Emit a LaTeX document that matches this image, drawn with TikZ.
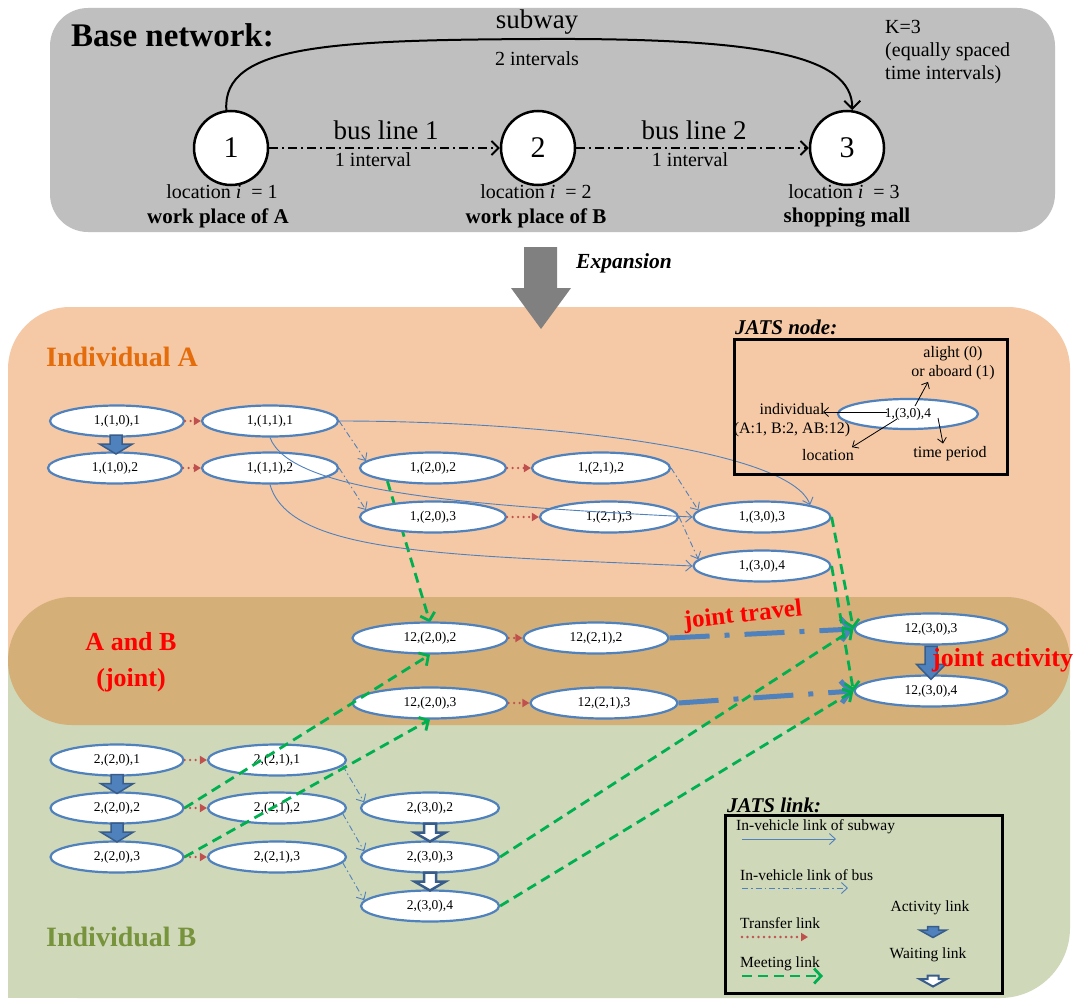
\documentclass[tikz,border=0pt]{standalone}
\usepackage{fontspec}
\setmainfont{Liberation Serif}
\usetikzlibrary{shapes.geometric,arrows.meta,calc}
\definecolor{nodeblue}{HTML}{4F81BD}
\definecolor{darkblue}{HTML}{385D8A}
\definecolor{tred}{HTML}{C0504D}
\definecolor{mgreen}{HTML}{00B050}
\definecolor{basegray}{HTML}{BFBFBF}
\definecolor{arrowgray}{HTML}{808080}
\definecolor{peach}{HTML}{F5C9A6}
\definecolor{band}{HTML}{D4AF78}
\definecolor{bgreen}{HTML}{CFD8B9}
\definecolor{orangeA}{HTML}{E46C0A}
\definecolor{oliveB}{HTML}{77933C}
\newcommand\fsz[2]{\fontsize{#1pt}{#2pt}\selectfont}
% block arrow pointing down: #1 style, #2 centre, #3 length, #4 shaft half width, #5 head half width, #6 head length
\newcommand\blockarr[6]{%
  \path[#1] let \p0=(#2) in
    ({\x0-#4pt},{\y0+0.5*#3pt}) -- ({\x0+#4pt},{\y0+0.5*#3pt}) --
    ({\x0+#4pt},{\y0-0.5*#3pt+#6pt}) -- ({\x0+#5pt},{\y0-0.5*#3pt+#6pt}) --
    ({\x0},{\y0-0.5*#3pt}) -- ({\x0-#5pt},{\y0-0.5*#3pt+#6pt}) --
    ({\x0-#4pt},{\y0-0.5*#3pt+#6pt}) -- cycle;}
\begin{document}
\begin{tikzpicture}[x=1pt,y=-1pt,
  jn/.style={ellipse, draw=nodeblue, line width=2.2pt, fill=white, minimum width=138pt, minimum height=31pt, inner sep=0pt, font=\fsz{13.5}{16}},
  circ/.style={circle, draw=black, line width=2.5pt, fill=white, minimum size=74pt, inner sep=0pt, font=\fsz{30}{36}},
  basebus/.style={draw=black, line width=1.8pt, dash pattern=on 9pt off 4pt on 2pt off 4pt, -{Straight Barb[length=7pt,width=14pt]}},
  subwayl/.style={draw=nodeblue, line width=0.9pt, -{Straight Barb[length=6pt,width=11pt]}},
  busl/.style={draw=nodeblue, line width=0.9pt, dash pattern=on 6pt off 3pt on 1.5pt off 3pt, -{Straight Barb[length=6pt,width=11pt]}},
  transl/.style={draw=tred, line width=2.6pt, line cap=round, dash pattern=on 0pt off 5.5pt, -{Triangle[length=7pt,width=8pt]}},
  meetl/.style={draw=mgreen, line width=2.8pt, dash pattern=on 10pt off 6pt, -{Straight Barb[length=7pt,width=15pt]}},
  jtravel/.style={draw=nodeblue, line width=5pt, dash pattern=on 40pt off 15pt on 5pt off 15pt, -{Straight Barb[length=9pt,width=22pt]}},
  actstyle/.style={draw=darkblue, fill=nodeblue, line width=1.5pt, line join=miter},
  waitstyle/.style={draw=darkblue, fill=white, line width=2.5pt, line join=miter},
  detarrow/.style={draw=black, line width=0.8pt, -{Straight Barb[length=5pt,width=9pt]}},
  boxtext/.style={font=\fsz{16}{19}, inner sep=0pt},
  legtext/.style={font=\fsz{15.5}{18}, inner sep=0pt, anchor=west},
  lab20/.style={font=\fsz{20}{23}, inner sep=0pt},
  labbold/.style={font=\bfseries\fsz{21}{25}, inner sep=0pt},
  big27/.style={font=\fsz{27}{32}, inner sep=0pt}
]
\useasboundingbox (0,0) rectangle (1075,998);
\fill[white] (0,0) rectangle (1075,998);
% ---------- backgrounds
\fill[basegray, rounded corners=38pt] (50,8) rectangle (1055,232);
\fill[peach, rounded corners=62pt] (8,307) rectangle (1070,740);
\fill[bgreen, rounded corners=70pt] (8,661) rectangle (1070,998);
\fill[bgreen] (8,661) rectangle (1070,760);
\fill[bgreen] (8,900) rectangle (200,998);
\fill[band, rounded corners=64pt] (8,597) rectangle (1070,725);
% ---------- base network
\node[font=\bfseries\fsz{33}{38}, anchor=west, inner sep=0pt] (title) at (71,35) {Base network:};
\node[circ] (c1) at (231,148) {1};
\node[circ] (c2) at (538,148) {2};
\node[circ] (c3) at (847,148) {3};
\draw[line width=2pt, -{Straight Barb[length=8pt,width=16pt]}] (c1.97) .. controls (222,45) and (330,40) .. (540,39) .. controls (760,38) and (852,55) .. (c3.82);
\draw[basebus] (c1) -- (c2);
\draw[basebus] (c2) -- (c3);
\node[big27] (lsub) at (537,22) {subway};
\node[lab20] (lsubi) at (537,59) {2 intervals};
\node[big27] (lb1) at (386,130) {bus line 1};
\node[lab20] (lb1i) at (373,160) {1 interval};
\node[big27] (lb2) at (694,130) {bus line 2};
\node[lab20] (lb2i) at (690,160) {1 interval};
\node[lab20] (loc1) at (222,192) {location \textit{i} \ = 1};
\node[lab20] (loc2) at (536,192) {location \textit{i} \ = 2};
\node[lab20] (loc3) at (844,192) {location \textit{i} \ = 3};
\node[labbold] (wp1) at (218,218) {work place of A};
\node[labbold] (wp2) at (536,218) {work place of B};
\node[labbold] (wp3) at (847,218) {shopping mall};
\node[font=\fsz{20}{23}, align=left, anchor=north west, inner sep=0pt] (kk) at (885,20) {K=3\\(equally spaced\\time intervals)};
% ---------- expansion arrow
\fill[arrowgray] (524,247) -- (557,247) -- (557,288) -- (571,288) -- (541,329) -- (511,288) -- (524,288) -- cycle;
\node[font=\bfseries\itshape\fsz{21.5}{25}, anchor=west, inner sep=0pt] (exp) at (576,263) {Expansion};
% ---------- region labels
\node[font=\bfseries\fsz{28}{32}, text=orangeA, anchor=west, inner sep=0pt] (labA) at (46,357) {Individual A};
\node[font=\bfseries\fsz{26}{36}, text=red, align=center, inner sep=0pt] (labAB) at (131,662) {A and B\\(joint)};
\node[font=\bfseries\fsz{28}{32}, text=oliveB, anchor=west, inner sep=0pt] (labB) at (46,937) {Individual B};
% ---------- JATS nodes
\node[jn, minimum width=134pt] (a101) at (117,421) {1,(1,0),1};
\node[jn, minimum width=136pt] (a111) at (270,421) {1,(1,1),1};
\node[jn, minimum width=134pt] (a102) at (115,468) {1,(1,0),2};
\node[jn, minimum width=136pt] (a112) at (270,468) {1,(1,1),2};
\node[jn, minimum width=146pt] (a202) at (433,468) {1,(2,0),2};
\node[jn] (a212) at (601,468) {1,(2,1),2};
% meeting link of 1,(2,0),2 passes behind 1,(2,0),3
\coordinate (j202n) at (430,622.5);
\draw[meetl] (a202.196) -- (j202n);
\node[jn, minimum width=146pt] (a203) at (433,517) {1,(2,0),3};
\node[jn] (a213) at (609,517) {1,(2,1),3};
\node[jn, minimum width=137pt] (a303) at (762,517) {1,(3,0),3};
\node[jn, minimum width=137pt] (a304) at (762,566) {1,(3,0),4};
\node[jn, minimum width=155pt] (j202) at (430,638) {12,(2,0),2};
\node[jn, minimum width=145pt] (j212) at (596,638) {12,(2,1),2};
\node[jn, minimum width=155pt] (j203) at (430,703) {12,(2,0),3};
\node[jn, minimum width=147pt] (j213) at (604,703) {12,(2,1),3};
\node[jn, minimum width=153pt] (j303) at (931,629) {12,(3,0),3};
\node[jn, minimum width=153pt] (j304) at (931,691) {12,(3,0),4};
\node[jn, minimum width=133pt] (b201) at (117,760) {2,(2,0),1};
\node[jn] (b211) at (277,760) {2,(2,1),1};
\node[jn, minimum width=133pt] (b202) at (117,808) {2,(2,0),2};
\node[jn] (b212) at (277,808) {2,(2,1),2};
\node[jn] (b302) at (430,808) {2,(3,0),2};
\node[jn, minimum width=133pt] (b203) at (117,857) {2,(2,0),3};
\node[jn] (b213) at (277,857) {2,(2,1),3};
\node[jn] (b303) at (430,857) {2,(3,0),3};
\node[jn] (b304) at (430,906) {2,(3,0),4};
% ---------- subway links
\draw[subwayl] (a111.east) .. controls (550,421) and (790,450) .. (a303.14);
\draw[subwayl] (a111.south) .. controls (290,490) and (450,505) .. (a303.west);
\draw[subwayl] (a112.south) .. controls (290,555) and (450,555) .. (a304.west);
% ---------- bus links
\draw[busl] (a111.east) -- (a202.174);
\draw[busl] (a112.east) -- (a203.174);
\draw[busl] (a212.east) -- (a303.174);
\draw[busl] (a213.east) -- (a304.174);
\draw[busl] (b211.-5) -- (b302.175);
\draw[busl] (b212.-5) -- (b303.175);
\draw[busl] (b213.-5) -- (b304.175);
% ---------- transfer links
\draw[transl] (a101.east) -- (a111.west);
\draw[transl] (a102.east) -- (a112.west);
\draw[transl] (a202.east) -- (a212.west);
\draw[transl] (a203.east) -- (a213.west);
\draw[transl] (j202.east) -- (j212.west);
\draw[transl] (j203.east) -- (j213.west);
\draw[transl] (b201.east) -- (b211.west);
\draw[transl] (b202.east) -- (b212.west);
\draw[transl] (b203.east) -- (b213.west);
% ---------- joint travel
\draw[jtravel] (j212.east) -- (j303.west);
\draw[jtravel] (j213.east) -- (j304.west);
% ---------- meeting links
\draw[meetl] (a303.east) -- (j303.west);
\draw[meetl] (a304.east) -- (j304.west);
\draw[meetl] (b202.east) -- (j202.south);
\draw[meetl] (b203.east) -- (j203.south);
\draw[meetl] (b303.east) -- (j303.west);
\draw[meetl] (b304.east) -- (j304.west);
% ---------- activity / waiting links
\blockarr{actstyle}{$(a101.south)!0.5!(a102.north)$}{19}{6}{16.5}{10}
\blockarr{actstyle}{$(j303.south)!0.6!(j304.north)$}{33}{6}{14.5}{15}
\blockarr{actstyle}{$(b201.south)!0.5!(b202.north)$}{19}{6}{16.5}{10}
\blockarr{actstyle}{$(b202.south)!0.5!(b203.north)$}{19}{6}{16.5}{10}
\blockarr{waitstyle}{$(b302.south)!0.5!(b303.north)$}{18}{6}{15.5}{9}
\blockarr{waitstyle}{$(b303.south)!0.5!(b304.north)$}{18}{6}{15.5}{9}
% ---------- joint labels
\node[font=\bfseries\fsz{25}{29}, text=red, rotate=6, inner sep=0pt] (ljt) at (743,616) {joint travel};
\node[font=\bfseries\fsz{26}{30}, text=red, anchor=west, inner sep=0pt] (lja) at (932,660) {joint activity};
% ---------- JATS node box
\draw[line width=3pt] (734,339) rectangle (1007,474);
\node[font=\bfseries\itshape\fsz{21}{24}, anchor=west, inner sep=0pt] (tn) at (735,327) {JATS node:};
\node[jn, minimum width=140pt, minimum height=30pt] (jnd) at (908,414) {1,(3,0),4};
\node[boxtext, align=center] (nal) at (953,363) {alight (0)\\or aboard (1)};
\node[boxtext, align=center] (nind) at (792,420) {individual\\(A:1, B:2, AB:12)};
\node[boxtext] (nloc) at (828,455) {location};
\node[boxtext] (ntim) at (950,454) {time period};
\coordinate (di1) at (887,412);
\coordinate (di2) at (915,406);
\coordinate (di3) at (938,418);
\coordinate (di4) at (897,419);
\coordinate (de1) at (823,412);
\draw[detarrow] (di1) -- (de1);
\draw[detarrow] (di2) -- ($(nal.south)+(-25,2)$);
\draw[detarrow] (di3) -- ($(ntim.north)+(-7,-3)$);
\draw[detarrow] (di4) -- ($(nloc.north east)+(-2,-2)$);
% ---------- JATS link legend
\draw[line width=3pt] (725,815) rectangle (1002,993);
\node[font=\bfseries\itshape\fsz{21}{24}, anchor=west, inner sep=0pt] (tl) at (727,805) {JATS link:};
\node[legtext] (lg1) at (736,827) {In-vehicle link of subway};
\node[legtext] (lg2) at (740,875) {In-vehicle link of bus};
\node[legtext] (lg3) at (740,923) {Transfer link};
\node[legtext] (lg4) at (740,964) {Meeting link};
\node[font=\fsz{15.5}{18}, inner sep=0pt] (lg5) at (930,908) {Activity link};
\node[font=\fsz{15.5}{18}, inner sep=0pt] (lg6) at (928,955) {Waiting link};
\coordinate (g1a) at (742,839); \coordinate (g1b) at (836,839);
\coordinate (g2a) at (742,888); \coordinate (g2b) at (848,888);
\coordinate (g3a) at (742,937); \coordinate (g3b) at (808,937);
\coordinate (g4a) at (742,976); \coordinate (g4b) at (823,976);
\draw[subwayl] (g1a) -- (g1b);
\draw[busl] (g2a) -- (g2b);
\draw[transl] (g3a) -- (g3b);
\draw[meetl] (g4a) -- (g4b);
\coordinate (ga) at (933,932);
\coordinate (gw) at (933,981);
\blockarr{actstyle}{ga}{11}{5.5}{13.5}{7.5}
\blockarr{waitstyle, line width=2pt}{gw}{11}{5.5}{13.5}{7.5}
\end{tikzpicture}
\end{document}
